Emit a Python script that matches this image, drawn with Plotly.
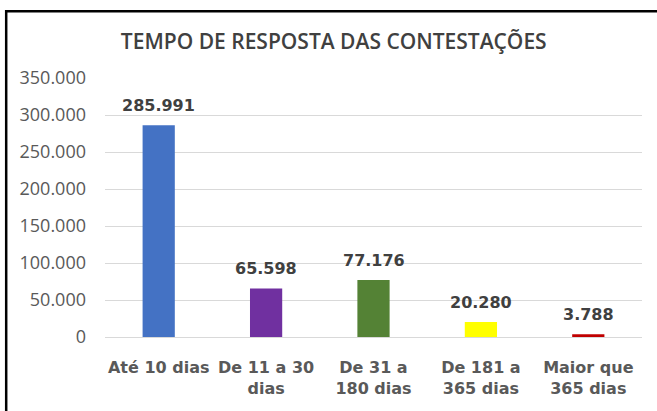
import plotly.graph_objects as go

categories = ["Até 10 dias", "De 11 a 30<br>dias", "De 31 a<br>180 dias", "De 181 a<br>365 dias", "Maior que<br>365 dias"]
values = [285991, 65598, 77176, 20280, 3788]
value_labels = ["285.991", "65.598", "77.176", "20.280", "3.788"]
colors = ["#4472C4", "#7030A0", "#548235", "#FFFF00", "#C00000"]
tick_vals = [0, 50000, 100000, 150000, 200000, 250000, 300000, 350000]
tick_text = ["0", "50.000", "100.000", "150.000", "200.000", "250.000", "300.000", "350.000"]

fig = go.Figure()
fig.add_trace(go.Bar(x=categories, y=values, marker=dict(color=colors, line=dict(width=0)),
                     hoverinfo="skip"))

for c, v, t in zip(categories, values, value_labels):
    fig.add_annotation(x=c, y=v, text=t, showarrow=False, yanchor="bottom", yshift=8,
                       font=dict(family="DejaVu Sans", size=16, color="#404040", weight="bold"))

# chart frame (left and top edges visible)
fig.add_shape(type="rect", xref="paper", yref="paper", x0=-0.184, x1=1.08, y0=-0.6, y1=1.258,
              line=dict(color="#000000", width=2.5), fillcolor="rgba(0,0,0,0)", layer="above")

fig.update_layout(
    width=657, height=411,
    margin=dict(l=105, r=15, t=78, b=74),
    paper_bgcolor="white", plot_bgcolor="white",
    bargap=0.7,
    showlegend=False,
    title=dict(text="TEMPO DE RESPOSTA DAS CONTESTAÇÕES", x=0.508, xanchor="center", y=0.898, yanchor="middle",
               font=dict(family="Open Sans", size=21, color="#404040", weight=600)),
    xaxis=dict(showgrid=False, showline=True, linecolor="#d9d9d9", linewidth=1, ticks="",
               ticklabelstandoff=16,
               tickfont=dict(family="DejaVu Sans", size=16, color="#595959", weight="bold"),
               fixedrange=True),
    yaxis=dict(range=[0, 350000], tickvals=tick_vals, ticktext=tick_text, showgrid=True,
               gridcolor="#d9d9d9", gridwidth=1, zeroline=False, showline=False, ticks="",
               ticklabelstandoff=18,
               tickfont=dict(family="Open Sans", size=18, color="#595959"), fixedrange=True),
)

fig.write_html("out.html", config={"displayModeBar": False},
               post_script="document.body.style.margin='0';document.body.style.overflow='hidden';")
